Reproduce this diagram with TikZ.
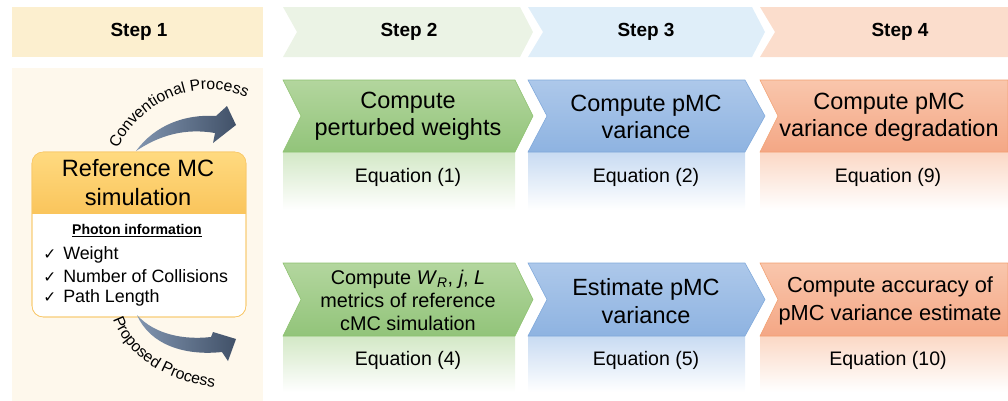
\documentclass[tikz,border=0pt]{standalone}
\usepackage{fontspec}
\setmainfont{Liberation Sans}
\newfontfamily\symfont{DejaVu Sans}
\usetikzlibrary{decorations.text}

\definecolor{hdrone}{HTML}{FCEFCF}
\definecolor{panelone}{HTML}{FEF8EC}
\definecolor{hdrtwo}{HTML}{EBF3E5}
\definecolor{hdrthree}{HTML}{DFEEF9}
\definecolor{hdrfour}{HTML}{FBDDCC}
\definecolor{greentop}{HTML}{B3D69E}
\definecolor{greenbot}{HTML}{92C47A}
\definecolor{greenline}{HTML}{8EC270}
\definecolor{bluetop}{HTML}{ADC8EA}
\definecolor{bluebot}{HTML}{8EB3E1}
\definecolor{blueline}{HTML}{80A9DB}
\definecolor{orangetop}{HTML}{F9C6AC}
\definecolor{orangebot}{HTML}{F4A785}
\definecolor{orangeline}{HTML}{F2A070}
\definecolor{greenfade}{HTML}{D3E8C6}
\definecolor{bluefade}{HTML}{C8DBF2}
\definecolor{orangefade}{HTML}{FBD8C5}
\definecolor{refTop}{HTML}{FFDA80}
\definecolor{refBot}{HTML}{FAC55C}
\definecolor{refLine}{HTML}{F9C767}
\definecolor{arrowdark}{HTML}{415168}
\definecolor{arrowlight}{HTML}{8195B0}

% chevron: left x, notch x, right corner x, tip x, top y, bottom y
\newcommand{\chevpath}[6]{(#1,#5) -- (#3,#5) -- (#4,{(#5+#6)/2}) -- (#3,#6) -- (#1,#6) -- (#2,{(#5+#6)/2}) -- cycle}
\newcommand{\arcfont}{\fontsize{11.2}{13}\selectfont}

\tikzset{
  steplabel/.style={font=\fontsize{13.5}{16}\selectfont\bfseries},
  boxtext/.style={align=center, font=\fontsize{16.7}{19.5}\selectfont},
  smallbox/.style={align=center, font=\fontsize{14.1}{16.3}\selectfont},
  eqtext/.style={font=\fontsize{13.9}{16}\selectfont},
  listtext/.style={anchor=base west, inner sep=0pt, font=\fontsize{12.7}{15}\selectfont},
  greenrow/.style={draw=greenline, top color=greentop, bottom color=greenbot},
  bluerow/.style={draw=blueline, top color=bluetop, bottom color=bluebot},
  orangerow/.style={draw=orangeline, top color=orangetop, bottom color=orangebot},
}

\begin{document}
\begin{tikzpicture}[x=0.025cm, y=-0.025cm]
\useasboundingbox (0,0) rectangle (1008,401);

% headers
\fill[hdrone] (12,7) rectangle (263,57);
\fill[hdrtwo] \chevpath{283}{297}{520}{533}{7}{57};
\fill[hdrthree] \chevpath{528}{543}{752}{765}{7}{57};
\fill[hdrfour] \chevpath{760}{775}{1008}{1008}{7}{57};
\node[steplabel] (s1) at (139,32) {Step 1};
\node[steplabel] (s2) at (409,32) {Step 2};
\node[steplabel] (s3) at (646,32) {Step 3};
\node[steplabel] (s4) at (900,32) {Step 4};

% step 1 panel
\fill[panelone] (12,68) rectangle (263,401);

% faded bodies
\shade[top color=greenfade, bottom color=white] (283,152) rectangle (515,210);
\shade[top color=bluefade, bottom color=white] (528,152) rectangle (745,210);
\shade[top color=orangefade, bottom color=white] (760,152) rectangle (1008,210);
\shade[top color=greenfade, bottom color=white] (283,336) rectangle (515,392);
\shade[top color=bluefade, bottom color=white] (528,336) rectangle (745,392);
\shade[top color=orangefade, bottom color=white] (760,336) rectangle (1008,392);

% row 1
\draw[greenrow] \chevpath{283}{301}{515}{533}{80}{152};
\draw[bluerow] \chevpath{528}{547}{745}{765}{80}{152};
\draw[orangerow] \chevpath{760}{778}{1008}{1008}{80}{152};
\node[boxtext] (weights) at (408,116) {Compute\\perturbed weights};
\node[boxtext] (pmcvar) at (646,117) {Compute pMC\\variance};
\node[boxtext] (degrad) at (889,117) {Compute pMC\\variance degradation};
\node[eqtext] (eqone) at (408,177) {Equation (1)};
\node[eqtext] (eqtwo) at (646,177) {Equation (2)};
\node[eqtext] (eqnine) at (888,177) {Equation (9)};

% row 2
\draw[greenrow] \chevpath{283}{301}{515}{533}{263}{336};
\draw[bluerow] \chevpath{528}{547}{745}{765}{263}{336};
\draw[orangerow] \chevpath{760}{778}{1008}{1008}{263}{336};
\node[smallbox] (metrics) at (408,300) {Compute \textit{W}\textsubscript{\textit{R}}, \textit{j}, \textit{L}\\metrics of reference\\cMC simulation};
\node[boxtext] (estim) at (646,301) {Estimate pMC\\variance};
\node[boxtext, font=\fontsize{15.5}{19.5}\selectfont] (accur) at (890,301) {Compute accuracy of\\pMC variance estimate};
\node[eqtext] (eqfour) at (408,360) {Equation (4)};
\node[eqtext] (eqfive) at (646,360) {Equation (5)};
\node[eqtext] (eqten) at (888,360) {Equation (10)};

% reference MC box
\filldraw[fill=white, draw=refLine, rounded corners=8] (32,152) rectangle (246,317);
\begin{scope}
  \clip[rounded corners=8] (32,152) rectangle (246,317);
  \shade[top color=refTop, bottom color=refBot] (32,152) rectangle (246,213);
\end{scope}
\draw[refLine, rounded corners=8] (32,152) rectangle (246,317);
\node[boxtext, font=\fontsize{16.8}{20.6}\selectfont] (refmc) at (138,183) {Reference MC\\simulation};
\node[anchor=base, font=\fontsize{10}{12}\selectfont\bfseries] (photon) at (137,234) {\underline{Photon information}};
\node[listtext] (ckone) at (43,259) {\symfont\fontsize{11}{13}\selectfont ✓};
\node[listtext] (cktwo) at (43,282) {\symfont\fontsize{11}{13}\selectfont ✓};
\node[listtext] (ckthree) at (43,302) {\symfont\fontsize{11}{13}\selectfont ✓};
\node[listtext] (weight) at (63,259) {Weight};
\node[listtext] (colls) at (63,282) {Number of Collisions};
\node[listtext] (path) at (63,302) {Path Length};

% curved arrows
\shade[left color=arrowlight, right color=arrowdark]
  (136,151) .. controls (155,125) and (185,114) .. (216,116) -- (227,106) -- (236,125)
  -- (213,143) -- (215,133) .. controls (185,128) and (160,135) .. (136,151) -- cycle;
\shade[left color=arrowlight, right color=arrowdark]
  (137,315) .. controls (155,335) and (185,340) .. (211,337) -- (213,332) -- (236,339)
  -- (228,361) -- (222,352) .. controls (185,356) and (150,345) .. (137,315) -- cycle;
\path[decorate, decoration={text along path, text={|\arcfont|Conventional Process}}]
  (118,149) .. controls (140,100) and (205,70) .. (258,104);
\path[decorate, decoration={text along path, text={|\arcfont|Proposed Process}}]
  (113,319) .. controls (128,362) and (180,390) .. (240,388);

\end{tikzpicture}
\end{document}
